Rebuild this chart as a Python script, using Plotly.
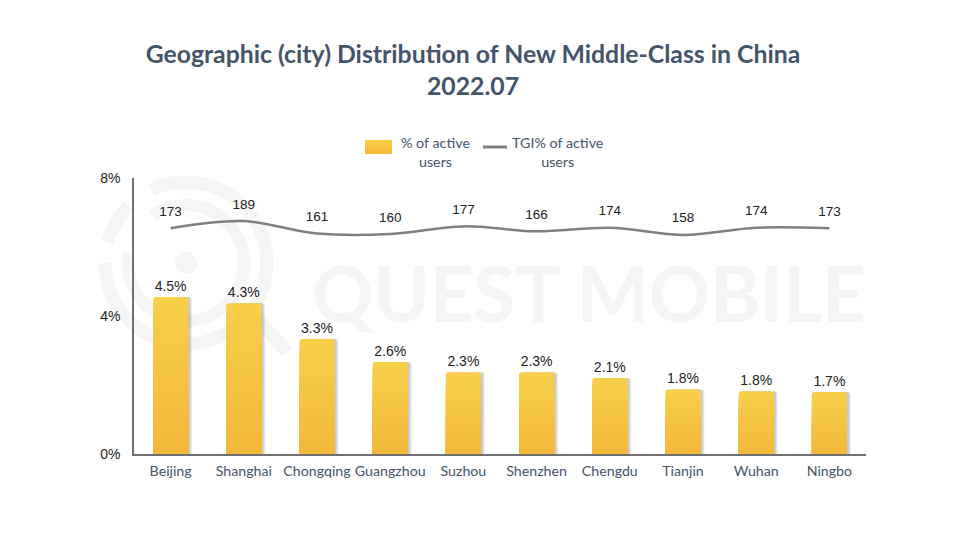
import math
import plotly.graph_objects as go

cities = ["Beijing", "Shanghai", "Chongqing", "Guangzhou", "Suzhou",
          "Shenzhen", "Chengdu", "Tianjin", "Wuhan", "Ningbo"]
active_pct = [4.55, 4.37, 3.33, 2.67, 2.37, 2.37, 2.2, 1.87, 1.82, 1.8]
active_labels = ["4.5%", "4.3%", "3.3%", "2.6%", "2.3%", "2.3%", "2.1%", "1.8%", "1.8%", "1.7%"]
tgi = [173, 189, 161, 160, 177, 166, 174, 158, 174, 173]
y_ticks = [0, 4, 8]
y_tick_labels = ["0%", "4%", "8%"]

DARK = "#44546A"
TEXT = "#222222"
WATER = "#f5f5f5"
BAR_W = 0.48
N_BANDS = 14


def band_color(t):
    return f"rgb({round(247 - 4 * t)},{round(207 - 23 * t)},{round(73 - 15 * t)})"


def px_x(v):
    return (v - 134) / 732


def px_y(v):
    return (454 - v) / 276


fig = go.Figure()

# soft shadow to the right of each bar
for off, alpha in [(4, 0.10), (3, 0.14), (2, 0.18)]:
    fig.add_trace(go.Bar(
        x=cities, y=active_pct, width=BAR_W, offset=-BAR_W / 2 + off / 73.2,
        marker=dict(color=f"rgba(110,110,110,{alpha})", line_width=0, cornerradius=3),
        showlegend=False, hoverinfo="skip",
    ))

# plotly bars have no gradient fill, so layer shrinking bars from yellow to orange
for i in range(N_BANDS):
    top = i == 0
    fig.add_trace(go.Bar(
        x=cities, y=[v * (1 - i / N_BANDS) for v in active_pct], width=BAR_W,
        name="% of active users",
        marker=dict(color=band_color(i / (N_BANDS - 1)), line_width=0,
                    cornerradius=3 if top else 0),
        text=active_labels if top else None,
        textposition="outside" if top else None,
        textfont=dict(family="Liberation Sans", size=14, color=TEXT),
        cliponaxis=False,
        showlegend=False,
        hoverinfo="skip" if not top else None,
    ))

# the invisible markers only push the labels further above the line
fig.add_trace(go.Scatter(
    x=cities, y=tgi, yaxis="y2", mode="lines+markers+text",
    name="TGI% of active users",
    line=dict(color="#808080", width=2.5, shape="spline", smoothing=1),
    marker=dict(size=13, opacity=0),
    text=[str(v) for v in tgi],
    textposition="top center",
    textfont=dict(family="Liberation Sans", size=13.5, color=TEXT),
    cliponaxis=False,
    showlegend=False,
))


# watermark logo: broken rings around a dot, sits behind everything
def arc(r, a0, a1, cx=186, cy=263):
    pts = []
    steps = max(abs(a1 - a0) // 4, 2)
    for k in range(steps + 1):
        a = math.radians(a0 + (a1 - a0) * k / steps)
        pts.append((px_x(cx + r * math.cos(a)), px_y(cy - r * math.sin(a))))
    return "M" + " L".join(f"{x:.4f},{y:.4f}" for x, y in pts)


def water_line(path, width):
    return dict(type="path", path=path, xref="paper", yref="paper", layer="below",
                line=dict(color=WATER, width=width), fillcolor="rgba(0,0,0,0)")


shapes = [
    water_line(arc(81, 115, -180), 13),
    water_line(arc(81, 165, 135), 13),
    water_line(arc(58, 125, -190), 12),
    water_line(f"M{px_x(252)},{px_y(312)} L{px_x(287)},{px_y(352)}", 13),
    dict(type="circle", xref="paper", yref="paper", layer="below",
         fillcolor=WATER, line_width=0,
         x0=px_x(175), x1=px_x(197), y0=px_y(274), y1=px_y(252)),
]

# legend swatches are drawn by hand, the built-in one is too small
swatch_bands = 14
for i in range(swatch_bands):
    shapes.append(dict(
        type="rect", xref="paper", yref="paper", line_width=0,
        fillcolor=band_color(i / (swatch_bands - 1)),
        x0=px_x(365), x1=px_x(392),
        y0=px_y(140 + 14 * (i + 1) / swatch_bands), y1=px_y(140 + 14 * i / swatch_bands),
    ))
shapes.append(dict(type="line", xref="paper", yref="paper",
                   line=dict(color="#808080", width=3),
                   x0=px_x(483), x1=px_x(507), y0=px_y(147), y1=px_y(147)))

fig.update_layout(
    width=980, height=549,
    margin=dict(l=134, r=114, t=178, b=95, autoexpand=False),
    paper_bgcolor="white", plot_bgcolor="rgba(0,0,0,0)",
    barmode="overlay",
    showlegend=False,
    title=dict(
        text="<b>Geographic (city) Distribution of New Middle-Class in China<br>2022.07</b>",
        x=473 / 980, xref="container", xanchor="center",
        y=1 - 63 / 549, yref="container", yanchor="middle",
        font=dict(family="Lato", size=24.8, color=DARK),
    ),
    xaxis=dict(
        type="category", categoryorder="array", categoryarray=cities,
        range=[-0.5, 9.5], tickangle=0,
        showgrid=False, showline=True, linecolor="#707070", linewidth=1.5,
        ticks="", tickfont=dict(family="Lato", size=14.2, color=DARK), zeroline=False,
        ticklabelstandoff=3,
    ),
    yaxis=dict(
        range=[0, 8], tickvals=y_ticks, ticktext=y_tick_labels,
        showgrid=False, showline=True, linecolor="#707070", linewidth=1.5,
        ticks="", tickfont=dict(family="Liberation Sans", size=14, color=TEXT),
        zeroline=False, ticklabelstandoff=9,
    ),
    yaxis2=dict(range=[-331, 285], overlaying="y", visible=False),
    shapes=shapes,
    annotations=[
        dict(text="QUEST MOBILE", xref="paper", yref="paper", showarrow=False,
             x=px_x(589), y=px_y(292), xanchor="center", yanchor="middle",
             font=dict(family="Lato", size=76, color=WATER, weight=700)),
        dict(text="% of active<br>users", xref="paper", yref="paper", showarrow=False,
             x=px_x(435), y=px_y(152), xanchor="center", yanchor="middle", align="center",
             font=dict(family="Lato", size=14.3, color=DARK)),
        dict(text="TGI% of active<br>users", xref="paper", yref="paper", showarrow=False,
             x=px_x(557), y=px_y(152), xanchor="center", yanchor="middle", align="center",
             font=dict(family="Lato", size=14.3, color=DARK)),
    ],
)

fig.write_html("out.html", config=dict(displayModeBar=False),
               post_script="document.body.style.margin='0';")
